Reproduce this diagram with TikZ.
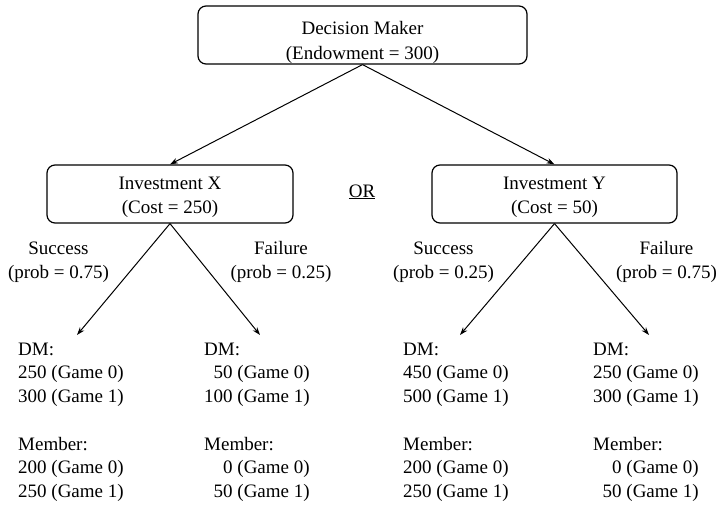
\documentclass[tikz,border=0pt]{standalone}
\usepackage{fontspec}
\setmainfont{Liberation Serif}
\usetikzlibrary{arrows.meta}
\newcommand{\stk}[1]{\begin{tabular}[t]{@{}c@{}}#1\end{tabular}}
\newcommand{\pay}[4]{\begin{tabular}[t]{@{}r@{ }l@{}}\multicolumn{2}{@{}l@{}}{DM:}\\#1&(Game 0)\\#2&(Game 1)\\ &\\\multicolumn{2}{@{}l@{}}{Member:}\\#3&(Game 0)\\#4&(Game 1)\end{tabular}}
\begin{document}
\begin{tikzpicture}[x=1pt,y=-1pt,
  every node/.append style={font=\fontsize{19}{24.5}\selectfont,inner sep=0pt},
  box/.style={draw,line width=1.2pt,rounded corners=8pt},
  lbl/.style={anchor=base},
  res/.style={anchor=base west,font=\fontsize{19}{23.75}\selectfont},
  arr/.style={line width=1pt,-{Stealth[length=8pt,width=5.5pt]}}]
\useasboundingbox (0,0) rectangle (719,505);
\node[box,minimum width=329pt,text height=28.5pt,text depth=29.5pt,font=\fontsize{19}{25}\selectfont] (top) at (362.5,35) {\stk{Decision Maker\\(Endowment = 300)}};
\node[box,minimum width=246pt,text height=24pt,text depth=34pt] (X) at (170,194) {\stk{Investment X\\(Cost = 250)}};
\node[box,minimum width=245pt,text height=24pt,text depth=34pt] (Y) at (554.5,194) {\stk{Investment Y\\(Cost = 50)}};
\node[lbl] (or) at (362,197) {\underline{OR}};
\draw[arr] (top.south) -- (X.north);
\draw[arr] (top.south) -- (Y.north);
\coordinate (xs) at (77,335);
\coordinate (xf) at (260,335);
\coordinate (ys) at (460,335);
\coordinate (yf) at (649,335);
\draw[arr] (X.south) -- (xs);
\draw[arr] (X.south) -- (xf);
\draw[arr] (Y.south) -- (ys);
\draw[arr] (Y.south) -- (yf);
\node[lbl] (lxs) at (58.5,254) {\stk{Success\\(prob = 0.75)}};
\node[lbl] (lxf) at (281,254) {\stk{Failure\\(prob = 0.25)}};
\node[lbl] (lys) at (443.5,254) {\stk{Success\\(prob = 0.25)}};
\node[lbl] (lyf) at (666.5,254) {\stk{Failure\\(prob = 0.75)}};
\node[res] (r1) at (18,355) {\pay{250}{300}{200}{250}};
\node[res] (r2) at (204,355) {\pay{50}{100}{0}{50}};
\node[res] (r3) at (403,355) {\pay{450}{500}{200}{250}};
\node[res] (r4) at (593,355) {\pay{250}{300}{0}{50}};
\end{tikzpicture}
\end{document}
